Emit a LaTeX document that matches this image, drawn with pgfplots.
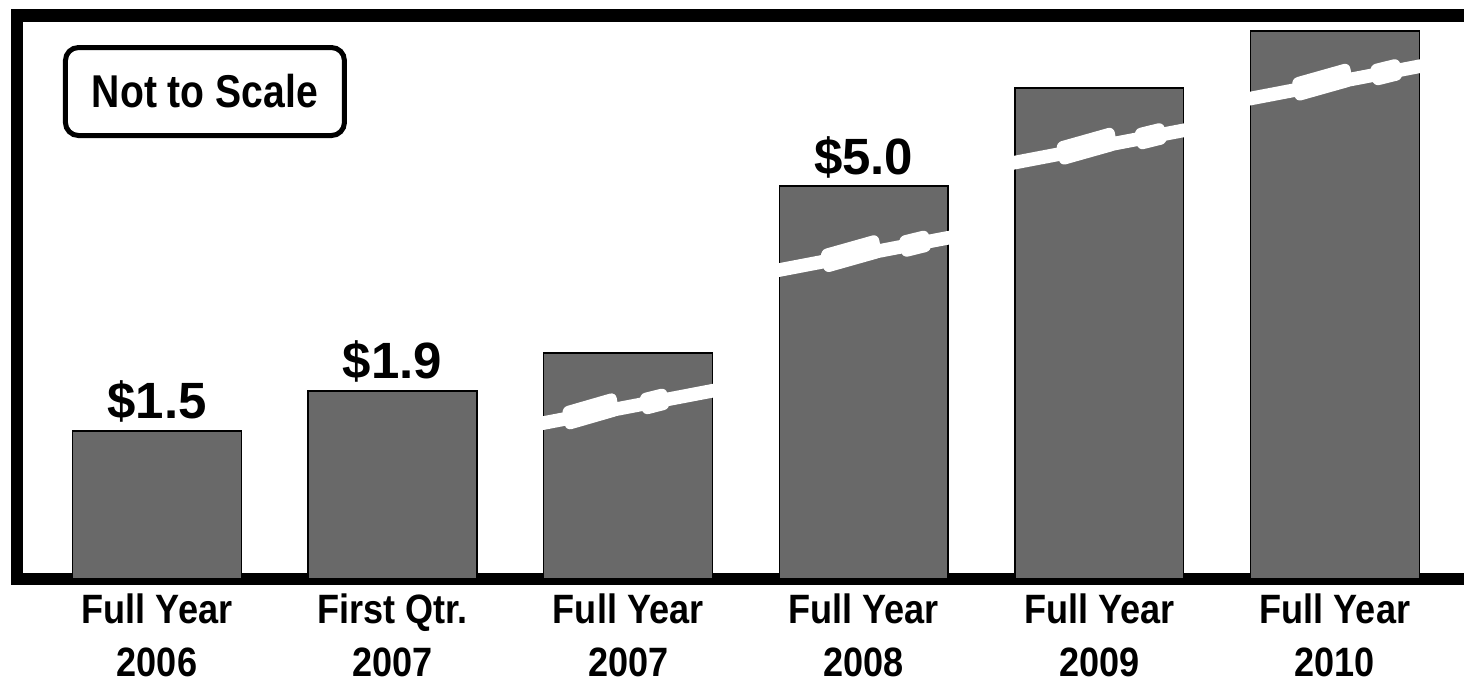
\documentclass[border=0pt]{standalone}
\usepackage{fontspec}
\setmainfont{Liberation Sans}
\newfontfamily\narrowfont{Liberation Sans}[FakeStretch=0.85]
\newfontfamily\tickfont{Liberation Sans}[FakeStretch=0.88]
\usepackage{pgfplots}
\usepackage{pgfplotstable}
\pgfplotsset{compat=1.18}
\usetikzlibrary{calc}
\definecolor{barfill}{RGB}{105,105,105}

\pgfplotstableread{
x y label
0 1.500 {\$1.5}
1 1.907 {\$1.9}
2 2.292 {}
3 3.985 {\$5.0}
4 4.980 {}
5 5.561 {}
}\bardata

% break mark: #1 = x of bar left edge, #2 = y of band centre there,
% #3,#4 = first step (along, pt), #5,#6 = second step (along, pt)
\newcommand{\brk}[6]{%
  \begin{scope}[shift={(axis cs:#1,#2)}, rotate=10.8]
    \fill[white] (-2pt,-3.4pt) rectangle (88pt,3.4pt);
    \fill[white, rounded corners=3pt] (#3pt,-5.9pt) -- (#3pt,5.9pt) -- (#4pt,8.5pt) -- (#4pt,-3.3pt) -- cycle;
    \fill[white, rounded corners=3pt] (#5pt,-5.6pt) -- (#5pt,5.2pt) -- (#6pt,6pt) -- (#6pt,-4.8pt) -- cycle;
  \end{scope}}

\begin{document}
\begin{tikzpicture}
\begin{axis}[
  scale only axis, width=723.6pt, height=281.6pt,
  xmin=-0.595, xmax=5.548, ymin=0, ymax=5.718,
  axis x line=box, axis y line=left,
  every outer y axis line/.append style={-},
  every outer x axis line/.append style={-},
  axis line style={line width=6.2pt, line cap=rect, -},
  ytick=\empty,
  xtick={0,1,2,3,4,5},
  xticklabels={{Full Year\\2006},{First Qtr.\\2007},{Full Year\\2007},{Full Year\\2008},{Full Year\\2009},{Full Year\\2010}},
  major tick length=0pt,
  xticklabel style={font=\tickfont\bfseries\fontsize{20.5}{26.5}\selectfont, align=center, inner sep=0pt, yshift=-7.4pt},
  ybar, bar width=0.717,
  clip=false,
]
\addplot[fill=barfill, draw=black, line width=0.7pt,
  nodes near coords, point meta=explicit symbolic,
  nodes near coords style={font=\fontsize{25.5}{30}\selectfont\bfseries, anchor=base, inner sep=0pt, yshift=6pt}]
  table[x=x, y=y, meta=label]{\bardata};

% break marks (decorative, "not to scale")
\brk{1.6415}{1.581}{10.2}{38.2}{49.5}{63.5}
\brk{2.6415}{3.134}{21.9}{51.9}{61.6}{76.8}
\brk{3.6415}{4.225}{21.9}{51.9}{61.6}{76.8}
\brk{4.6415}{4.875}{21.9}{51.9}{61.6}{76.8}

\node[draw, line width=2.5pt, rounded corners=6.5pt, minimum width=139.5pt, minimum height=44pt,
  inner sep=0pt, font=\narrowfont\bfseries\fontsize{23}{27}\selectfont]
  at (rel axis cs:0.130,0.865) {Not to Scale};

\coordinate (tl) at (rel axis cs:0,1);
\coordinate (br) at (rel axis cs:1,0);
\end{axis}
\pgfresetboundingbox
\path[use as bounding box] ($(tl)+(-8.4pt,7.75pt)$) rectangle ($(br)+(0pt,-50.65pt)$);
\end{tikzpicture}
\end{document}
